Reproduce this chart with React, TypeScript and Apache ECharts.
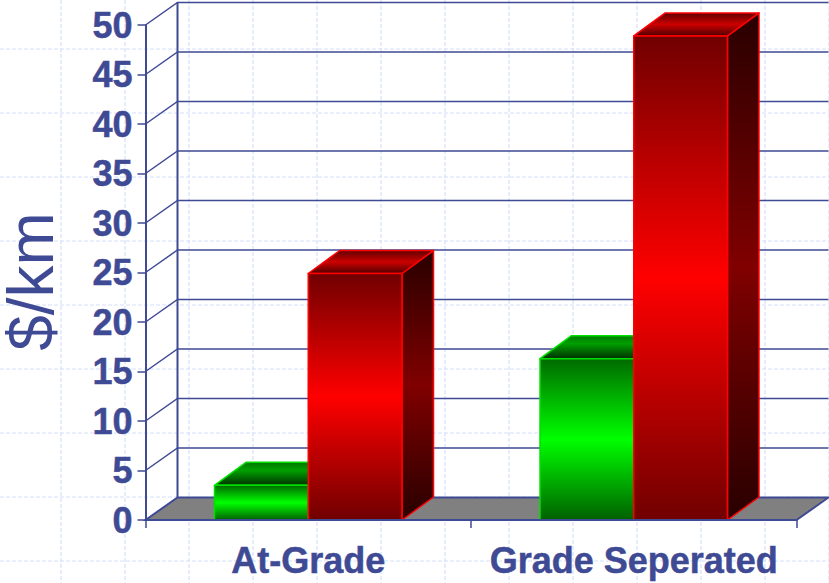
import React, { useEffect, useRef } from "react";
import * as echarts from "echarts";

const categories = ["At-Grade", "Grade Seperated"];
const lowSeries = [3.5, 16.3];
const highSeries = [24.9, 48.9];
const yTicks = [0, 5, 10, 15, 20, 25, 30, 35, 40, 45, 50];
const latticeX = [61, 125, 189, 253, 317, 381, 445, 509, 573, 637, 701, 765, 829];
const latticeY = [49, 113, 177, 241, 305, 369, 433, 497, 561];
const INK = "#3f4a94";
const DX = 32;
const DY = 22.5;
const BAR_DX = 31.5;
const BAR_DY = 23;

const grad = (stops: [number, string][]) =>
  new echarts.graphic.LinearGradient(0, 0, 0, 1, stops.map(([offset, color]) => ({ offset, color })));

const palettes = {
  green: {
    edge: "#00e000",
    front: [[0, "#006a00"], [0.5, "#00ff00"], [1, "#006000"]] as [number, string][],
    top: [[0, "#007800"], [0.35, "#00a000"], [1, "#003000"]] as [number, string][],
    side: [[0, "#002a00"], [0.5, "#008000"], [1, "#002a00"]] as [number, string][],
  },
  red: {
    edge: "#ff0000",
    front: [[0, "#700000"], [0.5, "#ff0000"], [1, "#700000"]] as [number, string][],
    top: [[0, "#600000"], [0.5, "#cc0000"], [1, "#500000"]] as [number, string][],
    side: [[0, "#280000"], [0.5, "#800000"], [1, "#280000"]] as [number, string][],
  },
};

function barRenderer(kind: "green" | "red") {
  const pal = palettes[kind];
  return (_params: any, api: any) => {
    const idx = api.value(0);
    const [cx, yTop] = api.coord([idx, api.value(1)]);
    const [, y0] = api.coord([idx, 0]);
    const w = api.size([1, 0])[0] * 0.288;
    const x0 = kind === "green" ? cx - w : cx;
    const x1 = x0 + w;
    const line = { stroke: pal.edge, lineWidth: 1.5, lineJoin: "round" };
    return {
      type: "group",
      children: [
        {
          type: "polygon",
          shape: { points: [[x1, yTop], [x1 + BAR_DX, yTop - BAR_DY], [x1 + BAR_DX, y0 - BAR_DY], [x1, y0]] },
          style: { fill: grad(pal.side), ...line },
        },
        {
          type: "polygon",
          shape: { points: [[x0, yTop], [x0 + BAR_DX, yTop - BAR_DY], [x1 + BAR_DX, yTop - BAR_DY], [x1, yTop]] },
          style: { fill: grad(pal.top), ...line },
        },
        {
          type: "polygon",
          shape: { points: [[x0, yTop], [x1, yTop], [x1, y0], [x0, y0]] },
          style: { fill: grad(pal.front), ...line },
        },
      ],
    };
  };
}

function frameRenderer(params: any, api: any) {
  const v = api.value(0);
  const sys = params.coordSys;
  const left = sys.x;
  const right = sys.x + sys.width;
  const [, y] = api.coord([0, v]);
  const stroke = { stroke: INK, lineWidth: 1.5 };
  const children: any[] = [];
  if (v === 0) {
    children.push({
      type: "polygon",
      shape: { points: [[left, y], [left + DX, y - DY], [right + DX, y - DY], [right, y]] },
      style: { fill: "#808080", stroke: INK, lineWidth: 2 },
    });
    children.push({
      type: "line",
      shape: { x1: left + DX, y1: y - DY, x2: left + DX, y2: sys.y - DY },
      style: { stroke: INK, lineWidth: 2 },
    });
  } else {
    children.push({
      type: "polyline",
      shape: { points: [[left, y], [left + DX, y - DY], [right + DX, y - DY]] },
      style: { fill: "none", ...stroke },
    });
  }
  return { type: "group", children };
}

export default function App() {
  const ref = useRef<HTMLDivElement>(null);
  useEffect(() => {
    const chart = echarts.init(ref.current!, undefined, { renderer: "svg" });
    const lattice = { stroke: "#d6e0fb", lineWidth: 1.2, lineDash: [4, 2] };
    chart.setOption({
      animation: false,
      backgroundColor: "#ffffff",
      graphic: [
        ...latticeX.map((x) => ({
          type: "line",
          z: -1,
          silent: true,
          shape: { x1: x, y1: 0, x2: x, y2: 583 },
          style: lattice,
        })),
        ...latticeY.map((y) => ({
          type: "line",
          z: -1,
          silent: true,
          shape: { x1: 0, y1: y, x2: 829, y2: y },
          style: lattice,
        })),
      ],
      grid: {
        left: 145.5,
        top: 25,
        width: 651,
        height: 495,
        containLabel: false,
        outerBoundsMode: "none",
      },
      xAxis: {
        type: "category",
        data: categories,
        z: 5,
        axisLine: { lineStyle: { color: INK, width: 2 } },
        axisTick: { show: true, length: 8, lineStyle: { color: INK, width: 1.5 } },
        axisLabel: {
          interval: 0,
          margin: 22,
          color: INK,
          fontSize: 36,
          fontWeight: "bold",
          textBorderColor: INK,
          textBorderWidth: 0.5,
          fontFamily: '"Liberation Sans", Arial, sans-serif',
        },
      },
      yAxis: {
        type: "value",
        min: 0,
        max: 50,
        interval: 5,
        z: 5,
        name: "$/km",
        nameLocation: "middle",
        nameRotate: 90,
        nameGap: 83,
        nameMoveOverlap: false,
        nameTextStyle: {
          color: INK,
          fontSize: 64,
          fontFamily: '"Liberation Sans", Arial, sans-serif',
          padding: [0, 18, 0, 0],
        },
        splitLine: { show: false },
        axisLine: { show: true, lineStyle: { color: INK, width: 2 } },
        axisTick: { show: true, length: 8, lineStyle: { color: INK, width: 1.5 } },
        axisLabel: {
          margin: 13,
          color: INK,
          fontSize: 36,
          fontWeight: "bold",
          textBorderColor: INK,
          textBorderWidth: 0.5,
          fontFamily: '"Liberation Sans", Arial, sans-serif',
        },
      },
      series: [
        {
          type: "custom",
          name: "frame",
          z: 1,
          silent: true,
          coordinateSystem: "cartesian2d",
          renderItem: frameRenderer,
          encode: { y: 0 },
          data: yTicks.map((v) => [v]),
        },
        {
          type: "custom",
          name: "Low",
          z: 2,
          coordinateSystem: "cartesian2d",
          renderItem: barRenderer("green"),
          encode: { x: 0, y: 1 },
          data: lowSeries.map((v, i) => [i, v]),
        },
        {
          type: "custom",
          name: "High",
          z: 3,
          coordinateSystem: "cartesian2d",
          renderItem: barRenderer("red"),
          encode: { x: 0, y: 1 },
          data: highSeries.map((v, i) => [i, v]),
        },
      ],
    });
    return () => chart.dispose();
  }, []);
  return (
    <div
      ref={ref}
      style={{ position: "absolute", left: 0, top: 0, width: 829, height: 583 }}
    />
  );
}
